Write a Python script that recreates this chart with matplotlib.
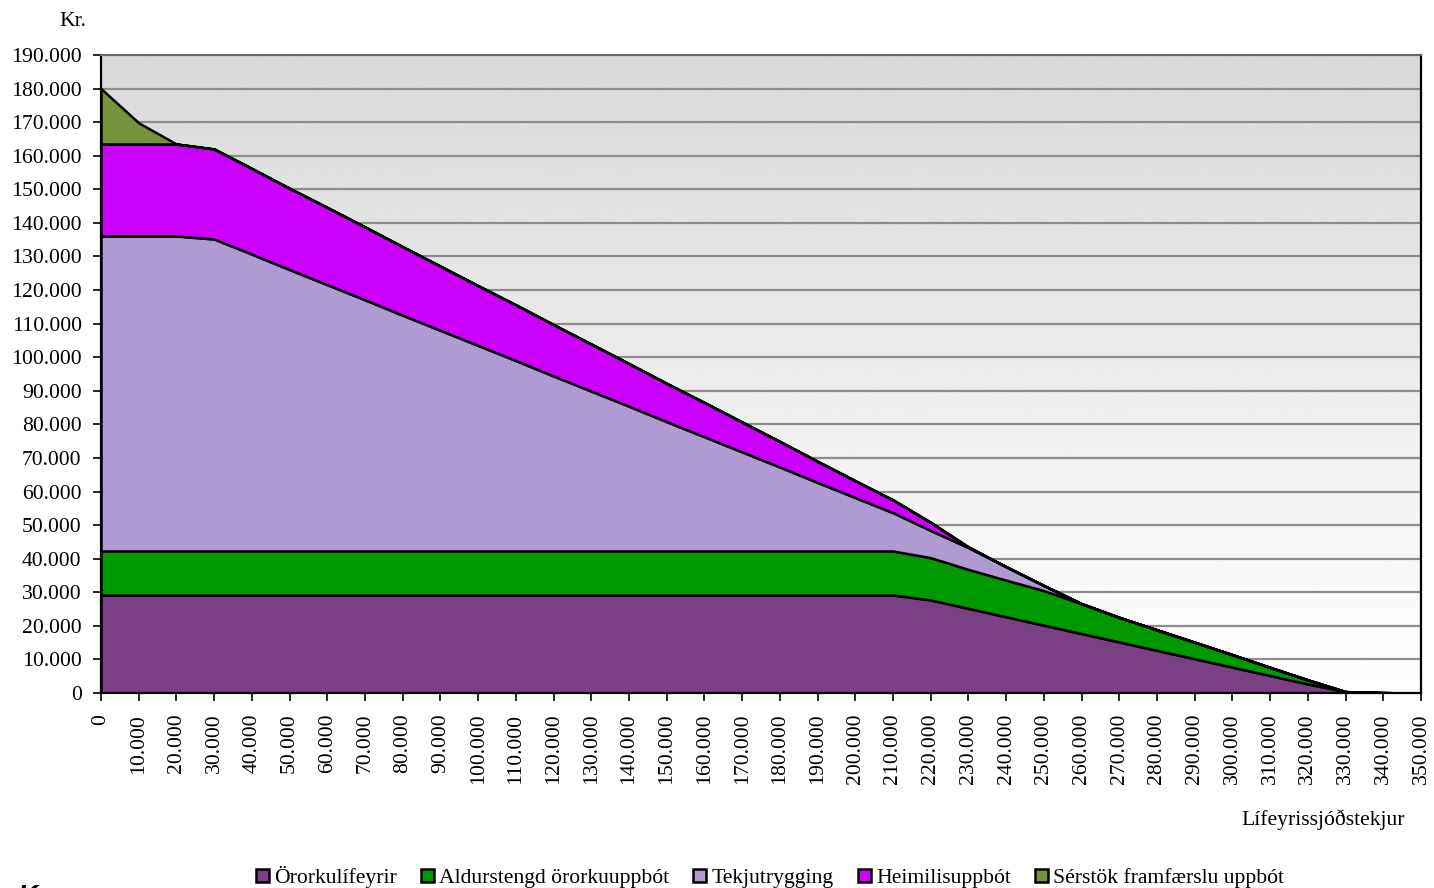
import numpy as np
import matplotlib
matplotlib.use("Agg")
import matplotlib.pyplot as plt
from matplotlib.ticker import FuncFormatter, MultipleLocator

# ---- data (kr, thousands) ----
income = list(range(0, 350001, 10000))

orork = [29.2] * 22 + [27.7, 25.2, 22.7, 20.2, 17.7, 15.2, 12.7, 10.2, 7.7, 5.2, 2.7, 0.4, 0.1, 0.0]
aldur = [13.1] * 22 + [12.6, 11.6, 10.9, 10.3, 8.9, 7.3, 6.1, 4.9, 3.7, 2.4, 1.2, 0.0, 0.0, 0.0]
tekju = [93.8, 93.8, 93.8, 92.9, 88.4, 83.8, 79.3, 74.8, 70.2, 65.7, 61.2, 56.7,
         52.1, 47.6, 43.1, 38.5, 34.0, 29.5, 25.0, 20.4, 15.9, 11.4, 8.1, 6.5,
         4.0, 1.5, 0.0, 0.0, 0.0, 0.0, 0.0, 0.0, 0.0, 0.0, 0.0, 0.0]
heimili = [27.4, 27.4, 27.4, 26.8, 25.5, 24.2, 23.0, 21.7, 20.4, 19.1, 17.8, 16.6,
           15.3, 14.0, 12.7, 11.4, 10.2, 8.9, 7.6, 6.3, 5.0, 3.8, 2.4, 0.2,
           0.0, 0.0, 0.0, 0.0, 0.0, 0.0, 0.0, 0.0, 0.0, 0.0, 0.0, 0.0]
serstok = [16.5, 6.3] + [0.0] * 34

labels = ["Örorkulífeyrir", "Aldurstengd örorkuuppbót", "Tekjutrygging",
          "Heimilisuppbót", "Sérstök framfærslu uppbót"]
colors = ["#7B3F85", "#009900", "#B09AD2", "#CC00FF", "#77933C"]

series = [np.array(s) * 1000 for s in (orork, aldur, tekju, heimili, serstok)]

plt.rcParams["font.family"] = ["Liberation Serif", "DejaVu Serif"]

fig = plt.figure(figsize=(14.34, 8.88), dpi=100)
ax = fig.add_axes([101 / 1434, 1 - 693 / 888, 1320 / 1434, 638 / 888])

# gradient background
grad = np.linspace(1.0, 0.85, 256).reshape(-1, 1)
ax.imshow(grad, extent=[0, 1, 0, 1], transform=ax.transAxes, cmap="gray",
          vmin=0, vmax=1, aspect="auto", zorder=0, origin="lower")

for yv in range(10000, 190001, 10000):
    ax.axhline(yv, color="#8c8c8c", lw=1.6, zorder=1)

x = np.array(income)
polys = ax.stackplot(x, *series, colors=colors, labels=labels,
                     edgecolor="black", linewidth=1.8, zorder=2)

ax.set_xlim(0, 350000)
ax.set_ylim(0, 190000)
ax.xaxis.set_major_locator(MultipleLocator(10000))
ax.yaxis.set_major_locator(MultipleLocator(10000))
fmt = FuncFormatter(lambda v, p: f"{int(round(v)):,}".replace(",", "."))
ax.xaxis.set_major_formatter(fmt)
ax.yaxis.set_major_formatter(fmt)
ax.tick_params(axis="x", labelrotation=90, labelsize=15.6, length=6, width=1.2, pad=9)
ax.tick_params(axis="y", labelsize=15.6, length=6, width=1.2, pad=8)

for s in ("left", "bottom", "right"):
    ax.spines[s].set_color("black")
    ax.spines[s].set_linewidth(1.6)
ax.spines["top"].set_color("#666666")
ax.spines["top"].set_linewidth(1.5)

fig.text(73 / 1434, 1 - 22 / 888, "Kr.", fontsize=15.6, ha="center", va="center")
fig.text(1405 / 1434, 1 - 820 / 888, "Lífeyrissjóðstekjur", fontsize=15.6,
         ha="right", va="center")
fig.text(18 / 1434, 1 - 897 / 888, "K", fontsize=20, fontweight="bold",
         fontstyle="italic", family="Liberation Sans", ha="left", va="center")

leg = fig.legend(handles=polys, labels=labels, loc="center", ncol=5,
                 bbox_to_anchor=(770 / 1434, 1 - 877 / 888), frameon=False,
                 fontsize=15.6, handlelength=0.6, handleheight=0.6,
                 handletextpad=0.25, columnspacing=1.1, borderaxespad=0)

fig.savefig("out.png", dpi=100)
